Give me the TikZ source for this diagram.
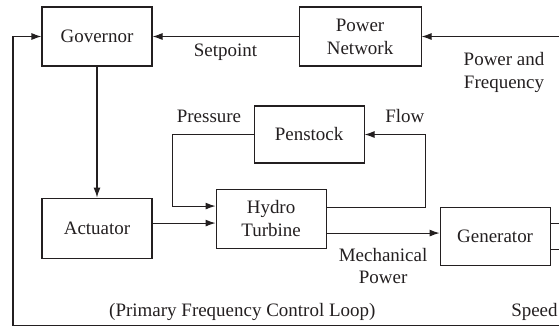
\documentclass[tikz,border=0pt]{standalone}
\usepackage{fontspec}
\setmainfont{Liberation Serif}
\usetikzlibrary{arrows.meta, positioning, calc}
\definecolor{inkDark}{RGB}{35, 31, 32}

\begin{document}
\begin{tikzpicture}[
    node distance=1cm,
    font=\fontsize{10.8}{13}\selectfont,
    text=inkDark,
    block/.style={
        rectangle,
        draw=inkDark,
        line width=0.6pt,
        minimum width=2.2cm,
        minimum height=1.18cm,
        inner sep=2pt,
        align=center
    },
    sig/.style={
        inner sep=1pt,
        align=center
    },
    flow/.style={
        -{Latex[length=2mm, width=1.4mm]},
        line width=0.6pt,
        draw=inkDark
    },
    wire/.style={
        line width=0.6pt,
        draw=inkDark
    }
]

\useasboundingbox (0,0) rectangle (11.18,6.54);

% Top row - Governor & Power Network
\node[block] (gov) at (1.94,5.81) {Governor};
\node[block, minimum width=2.44cm, right=2.92cm of gov] (net) {Power\\Network};

% Middle row - Actuator, Hydro Turbine & Penstock
\node[block, minimum height=1.2cm, below=2.62cm of gov] (act) {Actuator};
\node[block, right=1.26cm of act, yshift=0.19cm] (turb) {Hydro\\Turbine};
\node[block, minimum height=1.14cm, above=0.5cm of turb, xshift=0.76cm] (pen) {Penstock};
\node[block, minimum height=1.16cm, right=2.26cm of turb, yshift=-0.35cm] (gen) {Generator};

% Free ends at the picture border
\coordinate (netin) at (11.18,5.81);
\coordinate (loopL) at (0.26,0.03);
\coordinate (loopR) at (11.18,0.03);

% Connecting arrows
\draw[flow] (netin) -- node[sig, below=0.28cm, pos=0.4] {Power and\\Frequency} (net);
\draw[flow] (net) -- node[sig, below=0.1cm] {Setpoint} (gov);
\draw[flow] (gov) -- (act);
\draw[flow] ([yshift=0.1cm]act.east) -- ([yshift=0.1cm]act.east -| turb.west);
\draw[flow] (pen.west) -- node[sig, above=0.2cm, pos=0.55] {Pressure} ++(-1.62,0) |- ([yshift=0.25cm]turb.west);
\draw[flow] ([yshift=0.23cm]turb.east) -- ++(1.98,0) |- node[sig, above=0.2cm, pos=0.67] {Flow} (pen.east);
\draw[flow] ([yshift=-0.29cm]turb.east) -- node[sig, below=0.25cm] {Mechanical\\Power} ([yshift=-0.29cm]turb.east -| gen.west);

% Generator outputs
\draw[wire] ([yshift=0.26cm]gen.east) -- ([yshift=0.26cm]gen.east -| loopR);
\draw[wire] ([yshift=-0.26cm]gen.east) -- ([yshift=-0.26cm]gen.east -| loopR);

% Primary loop
\draw[flow] (loopR) -- node[sig, above=0.05cm, pos=0.58] {(Primary Frequency Control Loop)} node[sig, above=0.05cm, pos=0.045] {Speed} (loopL) |- (gov.west);

\end{tikzpicture}
\end{document}
